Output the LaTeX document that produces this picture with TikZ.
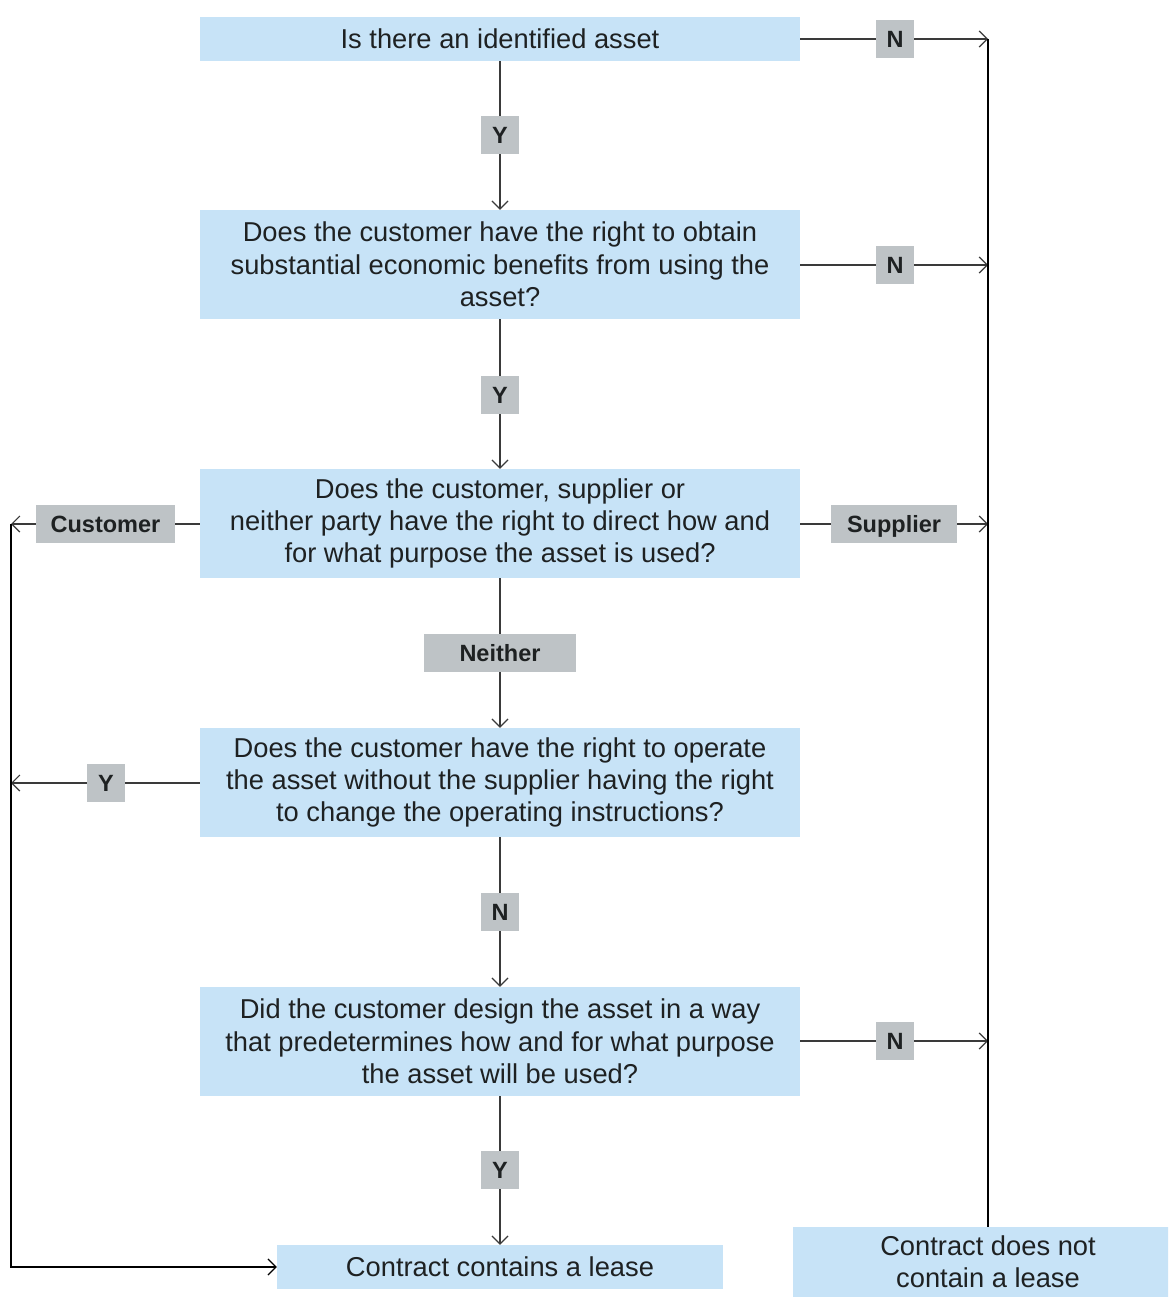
\documentclass[tikz,border=0pt]{standalone}
\usepackage{fontspec}
\setmainfont{Liberation Sans}
\usetikzlibrary{arrows.meta}
\definecolor{boxblue}{HTML}{C7E3F7}
\definecolor{tagfill}{HTML}{BEC3C6}
\definecolor{inkline}{HTML}{3A3A3A}
\definecolor{inktext}{HTML}{1E2122}

\begin{document}
\begin{tikzpicture}[x=1pt,y=-1pt,
  qbox/.style={fill=boxblue, minimum width=600pt, minimum height=109pt,
    align=center, inner sep=0pt, text=inktext,
    font=\fontsize{27.3}{32.3}\selectfont},
  tag/.style={fill=tagfill, minimum height=38pt, minimum width=38pt,
    inner sep=0pt, text height=17pt, text depth=0pt, text=inktext,
    font=\fontsize{23.5}{28}\selectfont\bfseries},
  link/.style={draw=inkline, line width=1.2pt},
  tip/.style={-{Straight Barb[length=8pt,width=16pt,line width=1.2pt]}}
]
\useasboundingbox (0,0) rectangle (1168,1298);
\clip (0,0) rectangle (1168,1298);

% question boxes down the middle
\node[qbox, minimum height=44pt] (q1) at (500,39) {Is there an identified asset};
\node[qbox] (q2) at (500,264.5) {Does the customer have the right to obtain\\substantial economic benefits from using the\\asset?};
\node[qbox] (q3) at (500,523.5) {Does the customer, supplier or\\neither party have the right to direct how and\\for what purpose the asset is used?};
\node[qbox] (q4) at (500,782.5) {Does the customer have the right to operate\\the asset without the supplier having the right\\to change the operating instructions?};
\node[qbox] (q5) at (500,1041.5) {Did the customer design the asset in a way\\that predetermines how and for what purpose\\the asset will be used?};

% outcomes
\node[qbox, minimum width=446pt, minimum height=44pt] (lease) at (500,1267) {Contract contains a lease};
\node[qbox, minimum width=390pt, minimum height=70pt] (nolease) at (988,1262) {Contract does not\\contain a lease};

% answer tags on the main spine
\node[tag] (y1) at (500,135) {Y};
\node[tag] (y2) at (500,395) {Y};
\node[tag, minimum width=152pt] (nei) at (500,653) {Neither};
\node[tag] (n4) at (500,912) {N};
\node[tag] (y5) at (500,1170) {Y};

% answer tags to the right
\node[tag] (n1) at (895,39) {N};
\node[tag] (n2) at (895,265) {N};
\node[tag, minimum width=126pt] (sup) at (894,524) {Supplier};
\node[tag] (n5) at (895,1041) {N};

% answer tags to the left
\node[tag, minimum width=139pt] (cus) at (105.5,524) {Customer};
\node[tag] (y4) at (106,783) {Y};

% collector rails
\coordinate (r1) at (988,39);
\coordinate (r2) at (988,265);
\coordinate (r3) at (988,524);
\coordinate (r5) at (988,1041);
\coordinate (rb) at (988,1227);
\coordinate (l3) at (11,524);
\coordinate (l4) at (11,783);
\coordinate (lb) at (11,1267);

% spine
\draw[link] (q1) -- (y1);
\draw[link, tip] (y1) -- (q2);
\draw[link] (q2) -- (y2);
\draw[link, tip] (y2) -- (q3);
\draw[link] (q3) -- (nei);
\draw[link, tip] (nei) -- (q4);
\draw[link] (q4) -- (n4);
\draw[link, tip] (n4) -- (q5);
\draw[link] (q5) -- (y5);
\draw[link, tip] (y5) -- (lease);

% branches to "does not contain"
\draw[link] (q1.east |- n1) -- (n1);
\draw[link, tip] (n1) -- (r1);
\draw[link] (q2.east |- n2) -- (n2);
\draw[link, tip] (n2) -- (r2);
\draw[link] (q3.east |- sup) -- (sup);
\draw[link, tip] (sup) -- (r3);
\draw[link] (q5.east |- n5) -- (n5);
\draw[link, tip] (n5) -- (r5);
\draw[draw=black, line width=1.2pt] (r1) -- (rb);

% branches to "contains"
\draw[link] (q3.west |- cus) -- (cus);
\draw[link, tip] (cus) -- (l3);
\draw[link] (q4.west |- y4) -- (y4);
\draw[link, tip] (y4) -- (l4);
\draw[draw=black, line width=1.2pt, tip] (l3) -- (lb) -- (lease.west);
\end{tikzpicture}
\end{document}
